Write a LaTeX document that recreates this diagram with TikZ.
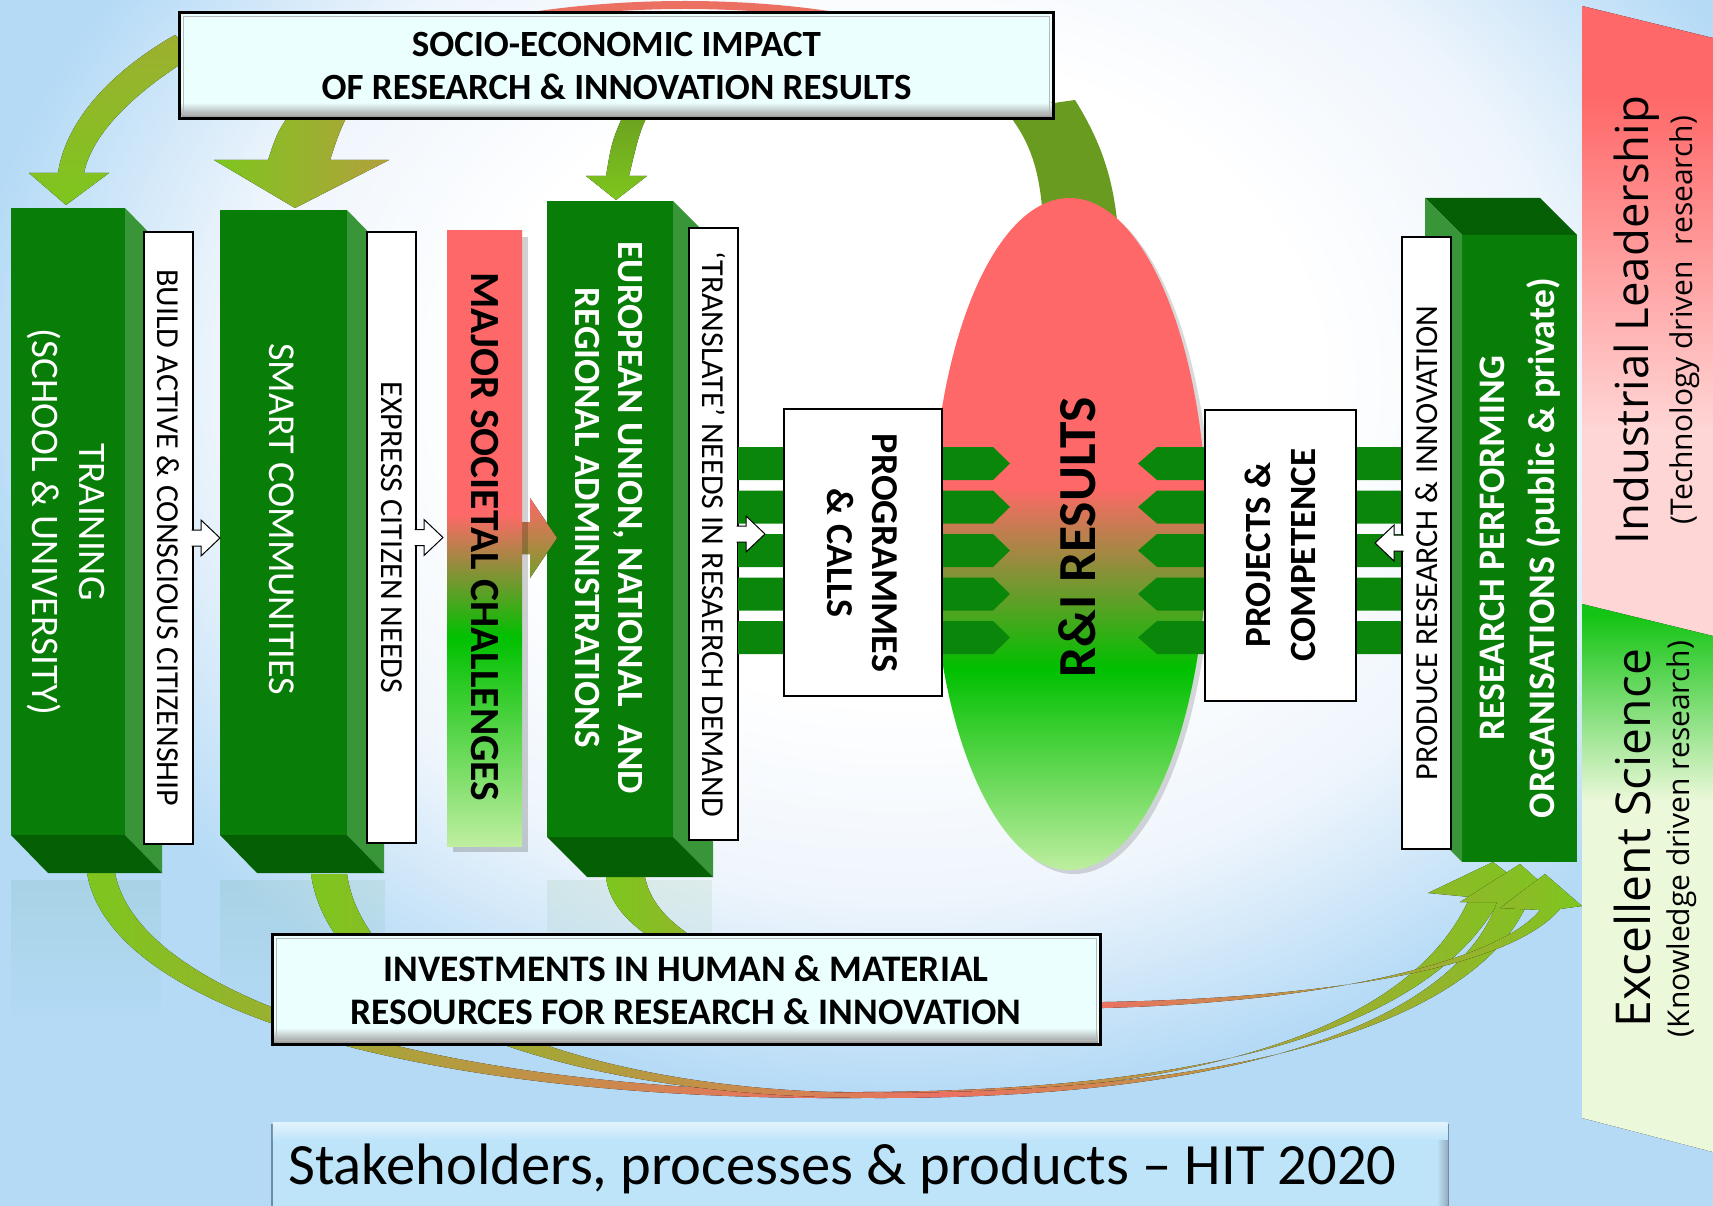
\documentclass[tikz,border=0pt]{standalone}
\usepackage{fontspec}
\setmainfont{Carlito}
\newfontfamily\panelfont{Open Sans}
\usetikzlibrary{shapes.geometric,fadings}

\definecolor{bgblue}{RGB}{180,218,246}
\definecolor{bgpale}{RGB}{238,245,252}
\definecolor{gfront}{RGB}{8,125,8}
\definecolor{gside}{RGB}{56,150,56}
\definecolor{gbot}{RGB}{5,96,5}
\definecolor{gbar}{RGB}{10,135,10}
\definecolor{rred}{RGB}{255,104,104}
\definecolor{rgreen}{RGB}{0,192,0}
\definecolor{lgreen}{RGB}{190,238,160}
\definecolor{ppink}{RGB}{255,214,214}
\definecolor{ppale}{RGB}{236,248,218}
\definecolor{pgreen}{RGB}{20,196,20}
\definecolor{cyanbox}{RGB}{236,255,255}
\definecolor{agreen}{RGB}{125,198,30}
\definecolor{aolive}{RGB}{105,155,32}
\definecolor{abrown}{RGB}{178,160,60}
\definecolor{ared}{RGB}{236,112,98}
\definecolor{titleblue}{RGB}{190,228,250}
\definecolor{titleedge}{RGB}{110,140,165}

\pgfdeclareradialshading{bgshade}{\pgfpoint{0bp}{0bp}}{color(0bp)=(white); color(8bp)=(white); color(13bp)=(bgpale); color(18bp)=(bgblue); color(50bp)=(bgblue)}
\pgfdeclareverticalshading{mscshade}{100bp}{color(0bp)=(lgreen); color(25bp)=(lgreen); color(42bp)=(rgreen); color(52bp)=(rred); color(100bp)=(rred)}
\pgfdeclareverticalshading{eshade}{100bp}{color(0bp)=(lgreen); color(25bp)=(lgreen); color(40bp)=(rgreen); color(53.5bp)=(rred); color(100bp)=(rred)}
\pgfdeclareverticalshading{redpanel}{100bp}{color(0bp)=(ppink); color(42bp)=(ppink); color(68bp)=(rred); color(100bp)=(rred)}
\pgfdeclareverticalshading{greenpanel}{100bp}{color(0bp)=(ppale); color(57bp)=(ppale); color(74bp)=(pgreen); color(100bp)=(pgreen)}

\newcommand\myfs[2]{\fontsize{#1}{#2}\selectfont}

\tikzset{
  gface/.style={fill=gfront, draw=none, inner sep=0pt, outer sep=0pt},
  strip/.style={fill=white, draw=black, line width=1.2pt, inner sep=0pt, outer sep=0pt},
  wtxt/.style={text=white, align=center, inner sep=0pt},
  btxt/.style={text=black, align=center, inner sep=0pt},
  warrow/.style={fill=white, draw=black, line width=1pt, line join=miter},
  wbox/.style={fill=white, draw=black, line width=1.5pt, inner sep=0pt, outer sep=0pt},
  cbox/.style={fill=cyanbox, draw=black, line width=3pt, inner sep=0pt, outer sep=0pt},
  botarrow/.style={left color=agreen, right color=agreen, middle color=ared},
}

\begin{document}
\begin{tikzpicture}[x=1pt,y=-1pt]
\useasboundingbox (0,0) rectangle (1713,1206);

% background
\begin{scope}
\clip (0,0) rectangle (1713,1206);
\fill[shading=bgshade] (-400,-620) rectangle (2200,1380);
% reflections
\fill[gfront, opacity=0.07, path fading=south] (11,880) rectangle (161,1020);
\fill[gfront, opacity=0.07, path fading=south] (220,880) rectangle (385,1020);
\fill[gfront, opacity=0.07, path fading=south] (547,880) rectangle (712,1020);
\end{scope}

% bottom arrows
\fill[botarrow]
  (87,873) .. controls (110,1010) and (420,1101) .. (860,1098)
  .. controls (1250,1095) and (1420,1010) .. (1470,897)
  -- (1428,893) -- (1493,862) -- (1545,902) -- (1500,899)
  .. controls (1440,1010) and (1260,1091) .. (860,1092)
  .. controls (440,1093) and (140,1000) .. (115,873) -- cycle;
\fill[botarrow]
  (311,874) .. controls (330,1010) and (560,1098) .. (880,1098)
  .. controls (1270,1098) and (1460,1010) .. (1497,902)
  -- (1460,902) -- (1520,864) -- (1566,905) -- (1527,904)
  .. controls (1480,1010) and (1280,1092) .. (880,1093)
  .. controls (580,1093) and (365,1000) .. (347,874) -- cycle;
\fill[botarrow]
  (606,877) .. controls (615,960) and (800,1015) .. (1104,1008)
  .. controls (1330,1002) and (1500,960) .. (1540,910)
  -- (1500,908) -- (1545,874) -- (1582,906) -- (1560,909)
  .. controls (1510,968) and (1330,998) .. (1104,1002)
  .. controls (820,1008) and (660,955) .. (645,877) -- cycle;

% top arcs
\draw[line width=8pt, color=ared] (1040,110) .. controls (960,-30) and (420,-30) .. (300,110);
\fill[aolive] (1043,220) .. controls (1040,170) and (1030,140) .. (1005,110)
  -- (1075,100) .. controls (1100,140) and (1112,175) .. (1117,220) -- cycle;
\fill[top color=abrown!60!agreen, bottom color=agreen]
  (175,35) -- (195,55) .. controls (130,95) and (92,135) .. (84,173)
  -- (109,173) -- (66,205) -- (29,173) -- (58,173)
  .. controls (65,125) and (105,75) .. (175,35) -- cycle;
\fill[left color=agreen, right color=abrown]
  (300,100) -- (355,100) .. controls (340,130) .. (330,160)
  -- (389,160) -- (295,208) -- (214,160) -- (268,160)
  .. controls (278,130) .. (300,100) -- cycle;
\fill[top color=aolive, bottom color=agreen]
  (630,100) -- (655,100) .. controls (640,130) .. (629,176)
  -- (647,176) -- (616,200) -- (586,176) -- (606,176)
  .. controls (612,140) .. (630,100) -- cycle;

% top box
\node[cbox, minimum width=874pt, minimum height=106pt] (socio) at (616.5,65.5) {};
\fill[top color=cyanbox, bottom color=gray!75] ([shift={(2,-16)}]socio.south west) rectangle ([shift={(-2,-2)}]socio.south east);
\draw[gray!55, line width=1pt] ([shift={(4,4)}]socio.north west) rectangle ([shift={(-4,-4)}]socio.south east);
\node[btxt, font=\myfs{37}{43}\bfseries] (sociot) at (616.5,66) {SOCIO-ECONOMIC IMPACT\\OF RESEARCH \& INNOVATION RESULTS};

% investments box
\node[cbox, minimum width=828pt, minimum height=110pt] (invest) at (686,989) {};
\fill[top color=cyanbox, bottom color=gray!75] ([shift={(2,-16)}]invest.south west) rectangle ([shift={(-2,-2)}]invest.south east);
\draw[gray!55, line width=1pt] ([shift={(4,4)}]invest.north west) rectangle ([shift={(-4,-4)}]invest.south east);
\node[btxt, font=\myfs{37.5}{43}\bfseries] (investt) at (686,990) {INVESTMENTS IN HUMAN \& MATERIAL\\RESOURCES FOR RESEARCH \& INNOVATION};

% 3D green boxes
\node[gface, minimum width=114pt, minimum height=627pt] (train) at (68,521.5) {};
\fill[gside] (train.north east) -- ++(37,38) -- ++(0,627) -- (train.south east) -- cycle;
\fill[gbot] (train.south west) -- (train.south east) -- ++(37,38) -- ++(-114,0) -- cycle;
\node[wtxt, rotate=-90, font=\myfs{39}{47}] (traint) at (66,522) {TRAINING\\(SCHOOL \& UNIVERSITY)};

\node[gface, minimum width=127pt, minimum height=625pt] (smart) at (283.5,522.5) {};
\fill[gside] (smart.north east) -- ++(37,38) -- ++(0,625) -- (smart.south east) -- cycle;
\fill[gbot] (smart.south west) -- (smart.south east) -- ++(37,38) -- ++(-127,0) -- cycle;
\node[wtxt, rotate=-90, font=\myfs{38}{46}] (smartt) at (282,519) {SMART COMMUNITIES};

\node[gface, minimum width=126pt, minimum height=636pt] (eu) at (610,519) {};
\fill[gside] (eu.north east) -- ++(40,40) -- ++(0,636) -- (eu.south east) -- cycle;
\fill[gbot] (eu.south west) -- (eu.south east) -- ++(40,40) -- ++(-126,0) -- cycle;
\node[wtxt, rotate=-90, font=\myfs{37}{43}\bfseries] (eut) at (608.5,518) {EUROPEAN UNION, NATIONAL\ \ AND\\REGIONAL ADMINISTRATIONS};

% white strips with arrows
\node[strip, minimum width=49pt, minimum height=612pt] (build) at (168.5,538) {};
\node[btxt, rotate=-90, font=\myfs{32}{36}] (buildt) at (build.center) {BUILD ACTIVE \& CONSCIOUS CITIZENSHIP};
\filldraw[warrow] (build.east) ++(-1.5,-8) -- ++(9.5,0) -- ++(0,-10) -- ++(19,18) -- ++(-19,18) -- ++(0,-10) -- ++(-9.5,0);

\node[strip, minimum width=49pt, minimum height=611pt] (express) at (391.5,537.5) {};
\node[btxt, rotate=-90, font=\myfs{32}{36}] (expresst) at (express.center) {EXPRESS CITIZEN NEEDS};
\filldraw[warrow] (express.east) ++(-1.5,-8) -- ++(9.5,0) -- ++(0,-10) -- ++(19,18) -- ++(-19,18) -- ++(0,-10) -- ++(-9.5,0);

% major societal challenges
\fill[top color=rred, bottom color={rgb,255:red,115;green,160;blue,40}]
  (505,522) -- (530,522) -- (530,498) -- (557,538) -- (530,578) -- (530,554) -- (505,554) -- cycle;
\fill[black, opacity=0.18] (453,237) rectangle (528,852);
\node[shading=mscshade, minimum width=75pt, minimum height=615pt, inner sep=0pt] (msc) at (484.5,538.5) {};
\node[btxt, rotate=-90, font=\myfs{41.5}{46}\bfseries] (msct) at (484.5,537) {MAJOR SOCIETAL CHALLENGES};

\node[strip, minimum width=49pt, minimum height=612pt] (transl) at (713.5,534) {};
\node[btxt, rotate=-90, font=\myfs{32}{36}] (translt) at (transl.center) {‘TRANSLATE’ NEEDS IN RESAERCH DEMAND};

% R&I ellipse
\fill[black, opacity=0.15] (1074,538) ellipse [x radius=137.5, y radius=336];
\node[ellipse, shading=eshade, minimum width=275pt, minimum height=672pt, inner sep=0pt] (ri) at (1069.5,534) {};

% bars
\foreach \c in {463.5,507,550.5,594,637.5}{
  \pgfmathsetmacro\ct{\c-16.5}
  \pgfmathsetmacro\cb{\c+16.5}
  \fill[gbar] (transl.east |- 0,\ct) -- (993,\ct) -- (1010,\c) -- (993,\cb) -- (transl.east |- 0,\cb) -- cycle;
  \fill[gbar] (1402,\ct) -- (1157,\ct) -- (1138,\c) -- (1157,\cb) -- (1402,\cb) -- cycle;
}
\filldraw[warrow] (transl.east) ++(-1.5,-8) -- ++(9.5,0) -- ++(0,-10) -- ++(19,18) -- ++(-19,18) -- ++(0,-10) -- ++(-9.5,0);

\node[wbox, minimum width=158pt, minimum height=287pt] (prog) at (863,552.5) {};
\node[btxt, rotate=-90, font=\myfs{38}{45}\bfseries] (progt) at (862,553) {PROGRAMMES\\\& CALLS};
\node[wbox, minimum width=151pt, minimum height=291pt] (proj) at (1280.5,555.5) {};
\node[btxt, rotate=90, font=\myfs{37}{45}\bfseries] (projt) at (1280,555) {PROJECTS \&\\COMPETENCE};
\node[btxt, rotate=90, font=\myfs{53.5}{56}\bfseries] (rit) at (1077,537) {R\&I RESULTS};

% research performing organisations
\node[gface, minimum width=115pt, minimum height=627pt] (rpo) at (1519.5,548.5) {};
\fill[gbot] (rpo.north west) -- ++(-37,-37) -- ++(115,0) -- (rpo.north east) -- cycle;
\fill[gside] (rpo.north west) -- ++(-37,-37) -- ++(0,627) -- (rpo.south west) -- cycle;
\node[wtxt, rotate=90, font=\myfs{37.5}{50}\bfseries] (rpot) at (1520,548) {RESEARCH PERFORMING\\ORGANISATIONS (public \& private)};

\node[strip, minimum width=49pt, minimum height=612pt] (produce) at (1426.5,543) {};
\node[btxt, rotate=90, font=\myfs{32}{36}] (producet) at (produce.center) {PRODUCE RESEARCH \& INNOVATION};
\filldraw[warrow] (produce.west) ++(1.5,-8) -- ++(-9.5,0) -- ++(0,-10) -- ++(-19,18) -- ++(19,18) -- ++(0,-10) -- ++(9.5,0);

% right panels
\fill[shading=redpanel] (1582,6) -- (1713,38) -- (1713,650) -- (1582,620) -- cycle;
\fill[shading=greenpanel] (1582,604) -- (1713,636) -- (1713,1152) -- (1582,1118) -- cycle;
\node[btxt, rotate=90, font=\panelfont\myfs{45.5}{50}] (indl) at (1637,320) {Industrial Leadership};
\node[btxt, rotate=90, font=\panelfont\myfs{30}{36}] (techd) at (1685,320) {(Technology driven\ \ research)};
\node[btxt, rotate=90, font=\panelfont\myfs{48}{52}] (excs) at (1632,838) {Excellent Science};
\node[btxt, rotate=90, font=\panelfont\myfs{30}{36}] (knowd) at (1682,839) {(Knowledge driven research)};

% title
\node[fill=titleblue, draw=titleedge, line width=1.5pt, minimum width=1176pt, minimum height=100pt, inner sep=0pt] (title) at (860,1175) {};
\fill[top color=white!55!titleblue, bottom color=titleblue] ([shift={(1.5,-1.5)}]title.north west) rectangle ([shift={(-1.5,16)}]title.north east);
\fill[left color=titleblue, right color=titleedge!70] ([shift={(-12,16)}]title.north east) rectangle ([shift={(-1.5,1.5)}]title.south east);
\node[btxt, anchor=west, font=\myfs{58.5}{62}] (titlet) at (288,1169) {Stakeholders, processes \& products – HIT 2020};
\end{tikzpicture}
\end{document}
